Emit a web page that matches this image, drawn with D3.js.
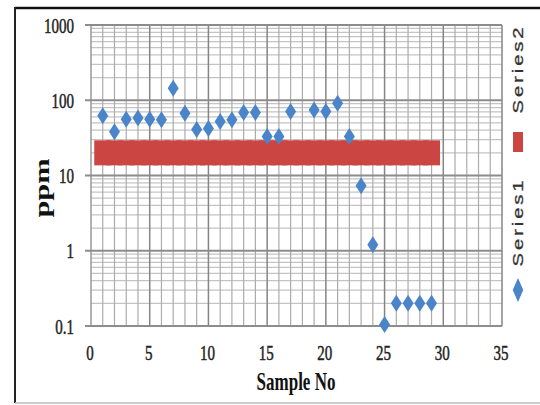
<!DOCTYPE html>
<html><head><meta charset="utf-8">
<script src="https://cdn.jsdelivr.net/npm/d3@7"></script>
<style>body{margin:0;background:#fff}svg{display:block}</style>
</head><body>
<svg id="c" width="540" height="405"></svg>
<script>
const series1X = [1,2,3,4,5,6,7,8,9,10,11,12,13,14,15,16,17,19,20,21,22,23,24,25,26,27,28,29];
const series1Y = [62,38,56,58,56,55,144,67,41,42,52,55,69,69,33,33,71,74,71,91,33,7.3,1.2,0.105,0.2,0.2,0.2,0.2];
const series2X = [1,2,3,4,5,6,7,8,9,10,11,12,13,14,15,16,17,18,19,20,21,22,23,24,25,26,27,28,29];
const series2Y = [20,20,20,20,20,20,20,20,20,20,20,20,20,20,20,20,20,20,20,20,20,20,20,20,20,20,20,20,20];
const xTicks = [0,5,10,15,20,25,30,35];
const yTicks = [0.1,1,10,100,1000];
const yTickLabels = ["0.1","1","10","100","1000"];
const legendNames = ["Series1","Series2"];

const svg = d3.select("#c");
const SY = 1.45; // vertical stretch of the text in the picture
const x = d3.scaleLinear().domain([0,35]).range([91,502]);
const y = d3.scaleLog().domain([0.1,1000]).range([326,25]);

// frame
svg.append("rect").attr("x",0).attr("y",0).attr("width",540).attr("height",405).attr("fill","#fff");
svg.append("line").attr("x1",15).attr("x2",540).attr("y1",8).attr("y2",8).attr("stroke","#111").attr("stroke-width",2.5);
svg.append("line").attr("x1",15).attr("x2",15).attr("y1",7).attr("y2",403).attr("stroke","#222").attr("stroke-width",2);
svg.append("line").attr("x1",15).attr("x2",540).attr("y1",403).attr("y2",403).attr("stroke","#bbb").attr("stroke-width",1.5);

const g = svg.append("g");
// minor horizontal gridlines
const minorY = [];
for (let d = 0.1; d < 1000; d *= 10) for (let k = 2; k <= 9; k++) minorY.push(+(d*k).toPrecision(3));
g.selectAll(".hmin").data(minorY).join("line")
  .attr("x1",x(0)).attr("x2",x(35)).attr("y1",d=>y(d)).attr("y2",d=>y(d))
  .attr("stroke","#c4c4c4").attr("stroke-width",1.2);
// vertical gridlines
const vLines = d3.range(1,36);
g.selectAll(".vmin").data(vLines).join("line")
  .attr("x1",d=>x(d)).attr("x2",d=>x(d)).attr("y1",y(1000)).attr("y2",y(0.1))
  .attr("stroke",d=>d%5===0?"#858585":"#acacac").attr("stroke-width",d=>d%5===0?1.5:1.2);
g.append("line").attr("x1",x(0)).attr("x2",x(0)).attr("y1",y(1000)).attr("y2",y(0.1)).attr("stroke","#999").attr("stroke-width",1.5);
// major horizontal gridlines
g.selectAll(".hmaj").data(yTicks).join("line")
  .attr("x1",x(0)-6).attr("x2",x(35)).attr("y1",d=>y(d)).attr("y2",d=>y(d))
  .attr("stroke","#8c8c8c").attr("stroke-width",2);

// series2 : square-ish markers forming a band
g.selectAll(".s2").data(series2X).join("rect")
  .attr("x",(d)=>x(d)-8.5).attr("y",(d,i)=>y(series2Y[i])-12.5)
  .attr("width",17).attr("height",25).attr("fill","#cb4643");

// series1 diamonds
const dia = "M0,-8.5L5.5,0L0,8.5L-5.5,0Z";
g.selectAll(".s1").data(series1X).join("path")
  .attr("d",dia).attr("transform",(d,i)=>`translate(${x(d)},${y(series1Y[i])})`)
  .attr("fill","#4a84c9");

// tick labels
const serif = "Liberation Serif, DejaVu Serif, serif";
svg.selectAll(".yl").data(yTicks).join("text")
  .attr("transform",d=>`translate(74,${y(d)}) scale(1,${SY})`)
  .attr("text-anchor","end").attr("dy","0.35em")
  .attr("font-family",serif).attr("font-size",15).attr("fill","#222")
  .attr("stroke","#222").attr("stroke-width",0.35)
  .text((d,i)=>yTickLabels[i]);
svg.selectAll(".xl").data(xTicks).join("text")
  .attr("transform",d=>`translate(${x(d)-1},352) scale(1,${SY})`)
  .attr("text-anchor","middle").attr("dy","0.35em")
  .attr("font-family",serif).attr("font-size",15).attr("fill","#222")
  .attr("stroke","#222").attr("stroke-width",0.35)
  .text(d=>d);

// axis titles
svg.append("text").attr("transform",`translate(296,381) scale(1,${SY})`)
  .attr("text-anchor","middle").attr("dy","0.35em")
  .attr("font-family",serif).attr("font-weight","bold").attr("font-size",17).attr("fill","#111")
  .text("Sample No");
svg.append("text").attr("transform",`translate(42,188) scale(1,${SY}) rotate(-90)`)
  .attr("text-anchor","middle").attr("dy","0.32em")
  .attr("font-family",serif).attr("font-weight","bold").attr("font-size",21).attr("fill","#111")
  .text("ppm");

// legend (rotated)
const lg = svg.append("g");
lg.append("path").attr("d",dia).attr("transform","translate(518,290) scale(0.95,1.4)").attr("fill","#4a84c9");
lg.append("rect").attr("x",513).attr("y",132).attr("width",10).attr("height",20).attr("fill","#cb4643");
const legendPos = [[518,222],[518,69]];
lg.selectAll(".lt").data(legendNames).join("text")
  .attr("transform",(d,i)=>`translate(${legendPos[i][0]},${legendPos[i][1]}) scale(1,${SY}) rotate(-90)`)
  .attr("text-anchor","middle").attr("dy","0.35em")
  .attr("font-family","Liberation Sans, Arial, sans-serif").attr("font-size",14).attr("letter-spacing",2)
  .attr("fill","#333").attr("stroke","#333").attr("stroke-width",0.3)
  .text(d=>d);
</script>
</body></html>
